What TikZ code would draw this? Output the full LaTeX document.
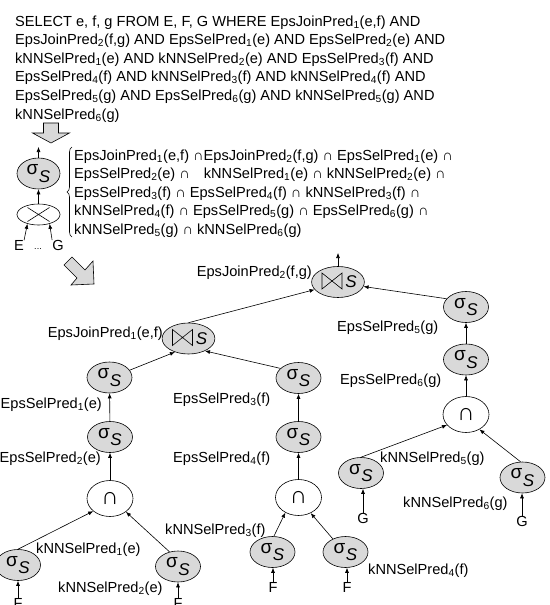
\documentclass[tikz,border=0pt]{standalone}
\usepackage{fontspec}
\setmainfont{Liberation Sans}[ItalicFont=Liberation Sans Italic]
\usetikzlibrary{shapes.geometric,arrows.meta,calc,decorations.pathreplacing}
\newcommand\sbs[1]{\textsubscript{#1}}
\newcommand\sigS{{\fontsize{19}{19}\selectfont σ\kern0.5pt\raisebox{-7.5pt}{\fontsize{17}{17}\selectfont\itshape S}}}
\newcommand\joinS{\hspace*{26pt}{\fontsize{17}{17}\selectfont\raisebox{-7pt}{\itshape S}}}
\begin{document}
\begin{tikzpicture}[x=1pt,y=-1pt,
  every node/.style={font=\fontsize{14.6}{18.6}\selectfont, inner sep=0pt},
  sel/.style={ellipse, draw, fill=gray!30, minimum width=45pt, minimum height=31pt, line width=0.6pt},
  jn/.style={sel, minimum width=47pt},
  isect/.style={ellipse, draw, fill=white, minimum width=46pt, minimum height=36pt, line width=0.6pt, font=\fontsize{24}{24}\selectfont},
  lab/.style={anchor=base west},
  labr/.style={anchor=base east},
  con/.style={-{Latex[length=5pt,width=4pt]}, line width=0.6pt},
  blk/.style={draw, fill=gray!30, line width=0.6pt, line join=miter},
]
\useasboundingbox (0,0) rectangle (549,605);

% query text
\node[lab] (q1) at (15,26) {SELECT e, f, g FROM E, F, G WHERE EpsJoinPred\sbs{1}(e,f) AND};
\node[lab] (q2) at (15,44.6) {EpsJoinPred\sbs{2}(f,g) AND EpsSelPred\sbs{1}(e) AND EpsSelPred\sbs{2}(e) AND};
\node[lab] (q3) at (15,63.2) {kNNSelPred\sbs{1}(e) AND kNNSelPred\sbs{2}(e) AND EpsSelPred\sbs{3}(f) AND};
\node[lab] (q4) at (15,81.8) {EpsSelPred\sbs{4}(f) AND kNNSelPred\sbs{3}(f) AND kNNSelPred\sbs{4}(f) AND};
\node[lab] (q5) at (15,100.4) {EpsSelPred\sbs{5}(g) AND EpsSelPred\sbs{6}(g) AND kNNSelPred\sbs{5}(g) AND};
\node[lab] (q6) at (15,119) {kNNSelPred\sbs{6}(g)};

% block arrows
\draw[blk] (43.5,123) -- (58.5,123) -- (58.5,133) -- (69.5,133) -- (51,143) -- (32.5,133) -- (43.5,133) -- cycle;
\draw[blk] (64,265) -- (77,278) -- (71,285) -- (94,284) -- (93,261) -- (85,270) -- (72,257) -- cycle;

% small initial plan
\node[sel, minimum width=43pt] (sq) at (38.5,173.5) {\sigS};
\node[ellipse, draw, minimum width=43pt, minimum height=21pt, line width=0.6pt] (cr) at (38.5,214.5) {};
\draw[line width=0.6pt] ($(cr)+(-11,-7)$) -- ($(cr)+(11,7)$) ($(cr)+(-11,7)$) -- ($(cr)+(11,-7)$);
\coordinate (sqo) at (38.5,147);
\draw[con] (sq) -- (sqo);
\draw[con] (cr) -- (sq);
\node (E) at (19,245.5) {E};
\node (G) at (58,245.5) {G};
\node[font=\fontsize{9}{9}\selectfont] (dots) at (38,249) {...};
\draw[con] (E.north east) -- (cr.220);
\draw[con] (G.north west) -- (cr.320);

% brace and predicate list
\draw[decorate, decoration={brace, amplitude=5pt}, line width=0.6pt] (72,237) -- (72,147);
\node[lab] (p1) at (74,160) {EpsJoinPred\sbs{1}(e,f) ∩EpsJoinPred\sbs{2}(f,g) ∩ EpsSelPred\sbs{1}(e) ∩};
\node[lab] (p2) at (74,178.6) {EpsSelPred\sbs{2}(e) ∩\hspace*{14pt}kNNSelPred\sbs{1}(e) ∩ kNNSelPred\sbs{2}(e) ∩};
\node[lab] (p3) at (74,197.2) {EpsSelPred\sbs{3}(f) ∩ EpsSelPred\sbs{4}(f) ∩ kNNSelPred\sbs{3}(f) ∩};
\node[lab] (p4) at (74,215.8) {kNNSelPred\sbs{4}(f) ∩ EpsSelPred\sbs{5}(g) ∩ EpsSelPred\sbs{6}(g) ∩};
\node[lab] (p5) at (74,234.4) {kNNSelPred\sbs{5}(g) ∩ kNNSelPred\sbs{6}(g)};

% tree nodes
\node[jn] (j2) at (338,282) {\joinS};
\node[sel] (s5) at (466,307) {\sigS};
\node[sel] (s6) at (466,359.5) {\sigS};
\node[isect] (iR) at (466,414.5) {∩};
\node[jn] (j1) at (188.5,338.5) {\joinS};
\node[sel] (s1) at (109.5,377.5) {\sigS};
\node[sel] (s2) at (110,437) {\sigS};
\node[isect] (iL) at (110,498.5) {∩};
\node[sel] (k1) at (18,565) {\sigS};
\node[sel] (k2) at (178,566.5) {\sigS};
\node (F1) at (18,603) {F};
\node (F2) at (178,603) {F};
\node[sel] (s3) at (298.5,378) {\sigS};
\node[sel] (s4) at (298.5,437) {\sigS};
\node[isect] (iM) at (298.5,497.5) {∩};
\node[sel] (k3) at (272.5,552) {\sigS};
\node[sel] (k4) at (345.5,552) {\sigS};
\node (F3) at (273,587) {F};
\node (F4) at (347,587) {F};
\node[sel] (k5) at (361,473) {\sigS};
\node[sel] (k6) at (522.5,477.5) {\sigS};
\node (G5) at (363,518.5) {G};
\node (G6) at (522,521) {G};

% bowtie symbols
\foreach \n in {j1,j2}
  \draw[line width=0.6pt, line join=miter] ($(\n)+(-16,-9)$) -- ($(\n)+(-16,7)$) -- ($(\n)+(4,-9)$) -- ($(\n)+(4,7)$) -- cycle;

% connectors
\coordinate (j2o) at (338,253);
\draw[con] (j2) -- (j2o);
\draw[con] (s5.157) -- (j2.350);
\draw[con] (j1.north) -- (j2.198);
\draw[con] (s1.20) -- (j1.225);
\draw[con] (s3.152) -- (j1.323);
\draw[con] (s2) -- (s1);
\draw[con] (iL) -- (s2);
\draw[con] (k1.north) -- (iL.217);
\draw[con] (k2.120) -- (iL.320);
\draw[con] (F1) -- (F1 |- k1.south);
\draw[con] (F2) -- (F2 |- k2.south);
\draw[con] (s4) -- (s3);
\draw[con] (iM) -- (s4);
\draw[con] (k3.85) -- (iM.229);
\draw[con] (k4.134) -- (iM.308);
\draw[con] (F3) -- (F3 |- k3.south);
\draw[con] (F4) -- (F4 |- k4.south);
\draw[con] (s6) -- (s5);
\draw[con] (iR) -- (s6);
\draw[con] (k5.north) -- (iR.209);
\draw[con] (k6.97) -- (iR.312);
\draw[con] (G5) -- (G5 |- k5.south);
\draw[con] (G6) -- (G6 |- k6.south);

% labels
\node[labr] (lj2) at (312,276) {EpsJoinPred\sbs{2}(f,g)};
\node[labr] (lj1) at (163,337) {EpsJoinPred\sbs{1}(e,f)};
\node[labr] (l1) at (102,408) {EpsSelPred\sbs{1}(e)};
\node[labr] (l2) at (101,462) {EpsSelPred\sbs{2}(e)};
\node[lab] (l3) at (173,403) {EpsSelPred\sbs{3}(f)};
\node[lab] (l4) at (173,462) {EpsSelPred\sbs{4}(f)};
\node[lab] (l5) at (337,331) {EpsSelPred\sbs{5}(g)};
\node[lab] (l6) at (340,384) {EpsSelPred\sbs{6}(g)};
\node[lab] (n1) at (36,553) {kNNSelPred\sbs{1}(e)};
\node[lab] (n2) at (58,592) {kNNSelPred\sbs{2}(e)};
\node[lab] (n3) at (165,534) {kNNSelPred\sbs{3}(f)};
\node[lab] (n4) at (368,574) {kNNSelPred\sbs{4}(f)};
\node[lab] (n5) at (380,462) {kNNSelPred\sbs{5}(g)};
\node[lab] (n6) at (403,507) {kNNSelPred\sbs{6}(g)};
\end{tikzpicture}
\end{document}
